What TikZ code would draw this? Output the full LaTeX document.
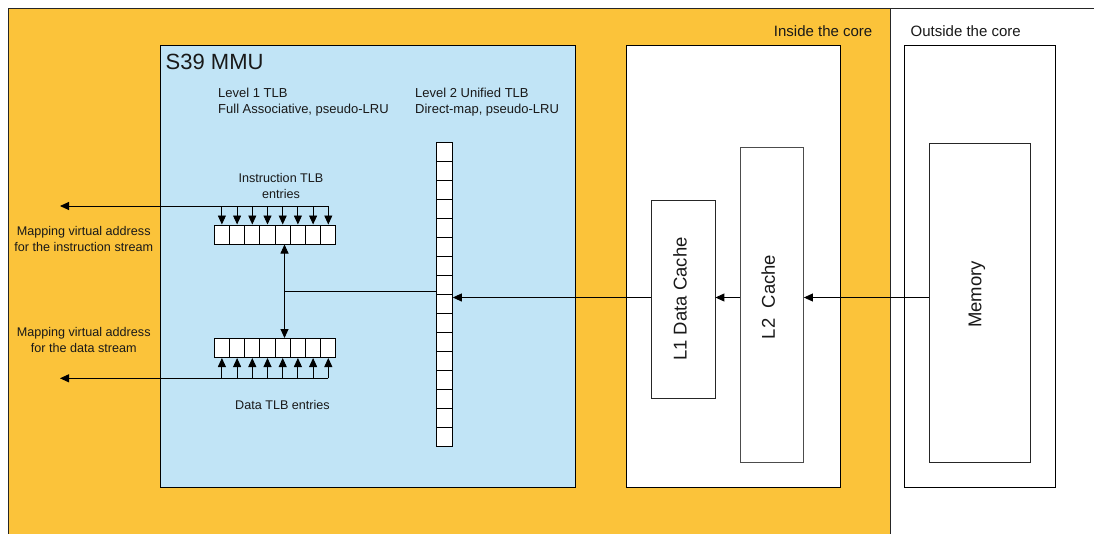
\documentclass[tikz,border=0pt]{standalone}
\usepackage{fontspec}
\setmainfont{Liberation Sans}
\usetikzlibrary{arrows.meta}

\definecolor{coreOrange}{RGB}{251,195,58}
\definecolor{mmuBlue}{RGB}{193,228,246}

\begin{document}
\begin{tikzpicture}[x = 1pt, y = -1pt]
	\tikzstyle{areaStyle} = [draw = black!85, line width = 0.9pt, inner sep = 0pt, anchor = north west]
	\tikzstyle{cellStyle} = [draw = black, fill = white, line width = 1pt, inner sep = 0pt, minimum width = 15.2pt, minimum height = 19pt]
	\tikzstyle{colCellStyle} = [cellStyle, minimum width = 15.6pt]
	\tikzstyle{textStyle} = [inner sep = 0pt, text = black!90, font = \fontsize{12.6}{15.5}\selectfont]
	\tikzstyle{headStyle} = [textStyle, font = \fontsize{13}{15.6}\selectfont]
	\tikzstyle{areaText} = [textStyle, font = \fontsize{15}{18}\selectfont]
	\tikzstyle{titleStyle} = [textStyle, font = \fontsize{22}{26}\selectfont]
	\tikzstyle{cacheText} = [textStyle, rotate = 90, font = \fontsize{18.5}{22}\selectfont]
	\tikzstyle{lineStyle} = [line width = 0.9pt, draw = black]
	\tikzstyle{arrowStyle} = [lineStyle, -{Triangle[length = 9pt, width = 8pt]}]
	\tikzstyle{dblArrowStyle} = [lineStyle, {Triangle[length = 9pt, width = 8pt]}-{Triangle[length = 9pt, width = 8pt]}]
	\useasboundingbox (0,0) rectangle (1094,533);
	% areas
	\node[areaStyle, fill = white, minimum width = 230, minimum height = 540] (outside) at (890,8) {};
	\node[areaStyle, fill = coreOrange, minimum width = 882, minimum height = 540] (core) at (8,8) {};
	\node[areaStyle, draw = black, fill = mmuBlue, minimum width = 415, minimum height = 442] (mmu) at (160,45) {};
	\node[areaStyle, draw = black, fill = white, minimum width = 214, minimum height = 442] (cache) at (626,45) {};
	\node[areaStyle, draw = black, fill = white, minimum width = 151, minimum height = 442] (memArea) at (904,45) {};
	\node[areaStyle, fill = white, minimum width = 63.5, minimum height = 198] (l1) at (651,200) {};
	\node[areaStyle, draw = black!70, fill = white, minimum width = 63, minimum height = 315] (l2) at (740,147) {};
	\node[areaStyle, fill = white, minimum width = 101, minimum height = 319] (mem) at (929,143) {};
	% labels
	\node[areaText, anchor = base east] (inLabel) at (872.5,36.7) {Inside the core};
	\node[areaText, anchor = base west] (outLabel) at (910.5,36.7) {Outside the core};
	\node[titleStyle, anchor = base west] (mmuTitle) at (165.5,69) {S39 MMU};
	\node[headStyle, anchor = north west, align = left] (l1Head) at (218,88) {Level 1 TLB\\Full Associative, pseudo-LRU};
	\node[headStyle, anchor = north west, align = left] (l2Head) at (415,88) {Level 2 Unified TLB\\Direct-map, pseudo-LRU};
	\node[textStyle, anchor = north, align = center] (itlbLabel) at (281,173.3) {Instruction TLB\\entries};
	\node[textStyle, anchor = base] (dtlbLabel) at (282.5,409.3) {Data TLB entries};
	\node[textStyle, anchor = north, align = center] (iMap) at (83.7,226.5) {Mapping virtual address\\for the instruction stream};
	\node[textStyle, anchor = north, align = center] (dMap) at (83.7,327.3) {Mapping virtual address\\for the data stream};
	\node[cacheText] (l1Label) at (680,299) {L1 Data Cache};
	\node[cacheText] (l2Label) at (768.3,297) {L2\ \ Cache};
	\node[cacheText] (memLabel) at (977,294.5) {Memory};
	% level 2 unified TLB
	\node[colCellStyle] (u1) at (444.5,152.2) {};
	\node[colCellStyle] (u2) at (444.5,171.2) {};
	\node[colCellStyle] (u3) at (444.5,190.2) {};
	\node[colCellStyle] (u4) at (444.5,209.2) {};
	\node[colCellStyle] (u5) at (444.5,228.2) {};
	\node[colCellStyle] (u6) at (444.5,247.2) {};
	\node[colCellStyle] (u7) at (444.5,266.2) {};
	\node[colCellStyle] (u8) at (444.5,285.2) {};
	\node[colCellStyle] (u9) at (444.5,304.2) {};
	\node[colCellStyle] (u10) at (444.5,323.2) {};
	\node[colCellStyle] (u11) at (444.5,342.2) {};
	\node[colCellStyle] (u12) at (444.5,361.2) {};
	\node[colCellStyle] (u13) at (444.5,380.2) {};
	\node[colCellStyle] (u14) at (444.5,399.2) {};
	\node[colCellStyle] (u15) at (444.5,418.2) {};
	\node[colCellStyle] (u16) at (444.5,437.2) {};
	% level 1 instruction TLB
	\node[cellStyle] (it1) at (221.9,234.5) {};
	\node[cellStyle] (it2) at (237.1,234.5) {};
	\node[cellStyle] (it3) at (252.3,234.5) {};
	\node[cellStyle] (it4) at (267.5,234.5) {};
	\node[cellStyle] (it5) at (282.7,234.5) {};
	\node[cellStyle] (it6) at (297.9,234.5) {};
	\node[cellStyle] (it7) at (313.1,234.5) {};
	\node[cellStyle] (it8) at (328.3,234.5) {};
	% level 1 data TLB
	\node[cellStyle] (dt1) at (221.9,348) {};
	\node[cellStyle] (dt2) at (237.1,348) {};
	\node[cellStyle] (dt3) at (252.3,348) {};
	\node[cellStyle] (dt4) at (267.5,348) {};
	\node[cellStyle] (dt5) at (282.7,348) {};
	\node[cellStyle] (dt6) at (297.9,348) {};
	\node[cellStyle] (dt7) at (313.1,348) {};
	\node[cellStyle] (dt8) at (328.3,348) {};
	% buses
	\coordinate (ibus) at (328.3,206);
	\coordinate (iout) at (60,206);
	\coordinate (dbus) at (328.3,378.3);
	\coordinate (dout) at (60,378.3);
	\coordinate (junc) at (284.5,291.5);
	\coordinate (feed) at (0,297.5);
	\draw[arrowStyle] (ibus) -- (iout);
	\draw[arrowStyle] (dbus) -- (dout);
	\draw[arrowStyle] (ibus -| it1) -- (it1);
	\draw[arrowStyle] (ibus -| it2) -- (it2);
	\draw[arrowStyle] (ibus -| it3) -- (it3);
	\draw[arrowStyle] (ibus -| it4) -- (it4);
	\draw[arrowStyle] (ibus -| it5) -- (it5);
	\draw[arrowStyle] (ibus -| it6) -- (it6);
	\draw[arrowStyle] (ibus -| it7) -- (it7);
	\draw[arrowStyle] (ibus -| it8) -- (it8);
	\draw[arrowStyle] (dbus -| dt1) -- (dt1);
	\draw[arrowStyle] (dbus -| dt2) -- (dt2);
	\draw[arrowStyle] (dbus -| dt3) -- (dt3);
	\draw[arrowStyle] (dbus -| dt4) -- (dt4);
	\draw[arrowStyle] (dbus -| dt5) -- (dt5);
	\draw[arrowStyle] (dbus -| dt6) -- (dt6);
	\draw[arrowStyle] (dbus -| dt7) -- (dt7);
	\draw[arrowStyle] (dbus -| dt8) -- (dt8);
	\draw[dblArrowStyle] (it5.south -| junc) -- (dt5.north -| junc);
	\draw[lineStyle] (junc) -- (junc -| u8.west);
	% fill path from memory
	\draw[arrowStyle] (feed -| mem.west) -- (feed -| l2.east);
	\draw[arrowStyle] (feed -| l2.west) -- (feed -| l1.east);
	\draw[arrowStyle] (feed -| l1.west) -- (feed -| u9.east);
\end{tikzpicture}
\end{document}
